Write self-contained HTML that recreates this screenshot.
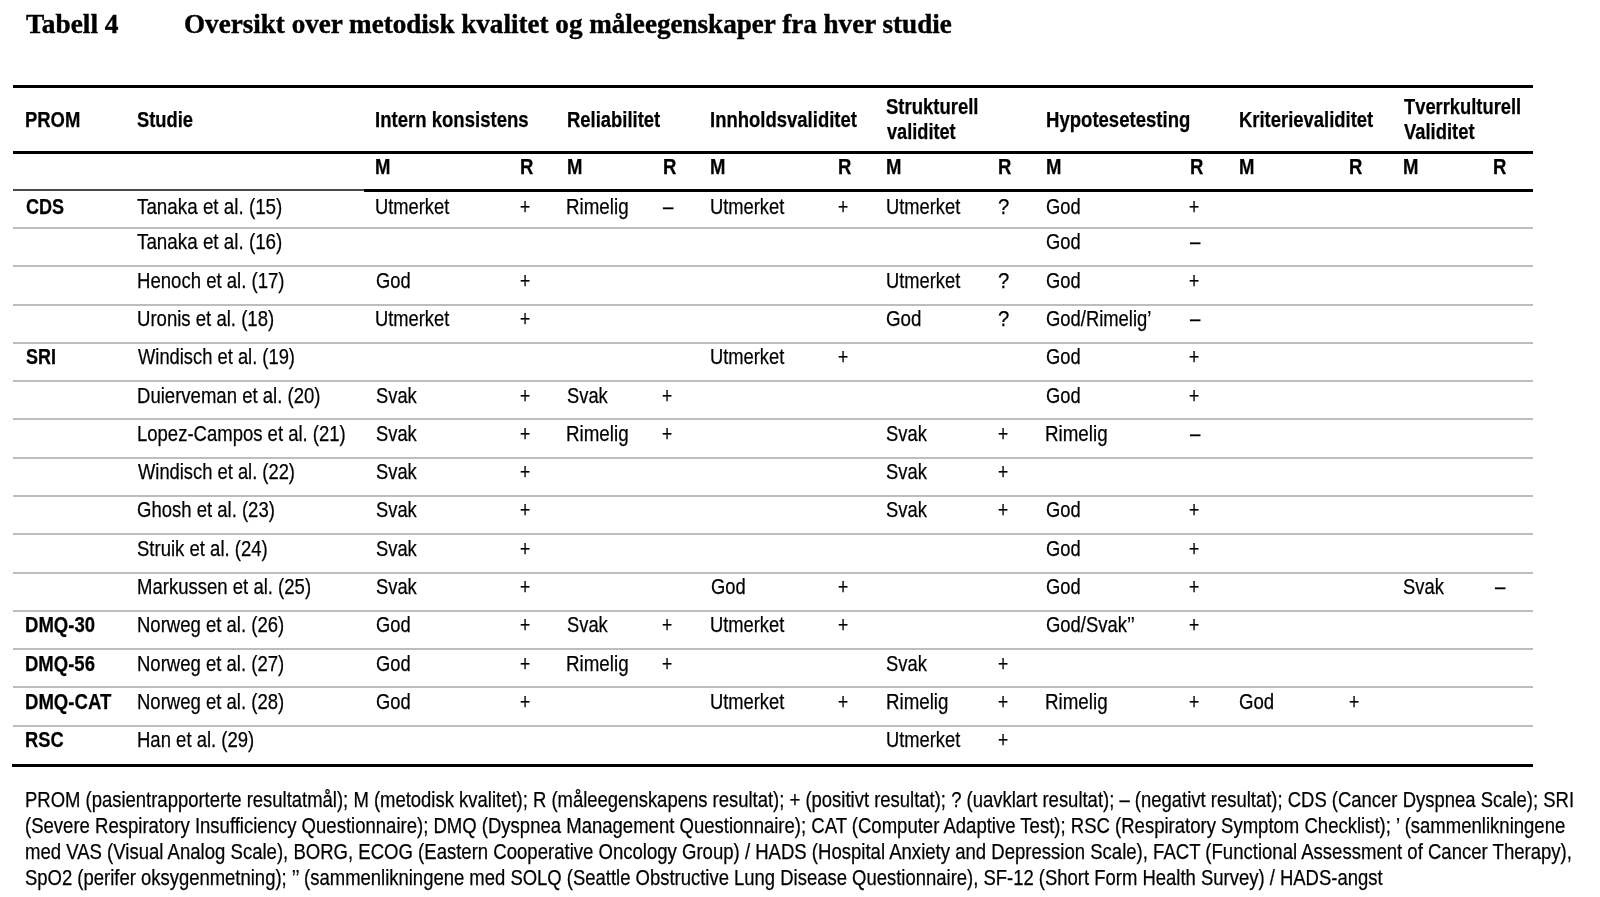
<!DOCTYPE html>
<html lang="no"><head><meta charset="utf-8"><title>Tabell 4 – Oversikt over metodisk kvalitet og måleegenskaper fra hver studie</title>
<style>
html,body{margin:0;padding:0;background:#fff;}
body{width:1600px;height:897px;position:relative;overflow:hidden;font-family:"Liberation Sans",Arial,sans-serif;color:#000;}
.wrap{position:absolute;left:0;top:0;width:1600px;height:897px;filter:grayscale(1);}
.t,.ti{position:absolute;white-space:nowrap;transform-origin:0 0;}
.t{-webkit-text-stroke:0.25px #000;}
.ti{-webkit-text-stroke:0.4px #000;}
.ti{font-family:"Liberation Serif","Times New Roman",serif;font-weight:700;}
.b{font-weight:700;}
.ln{position:absolute;left:13px;width:1520px;}
.blk{background:#000;height:3px;}
.gr{background:#bdbdbd;height:2px;}
</style></head><body><div class="wrap">
<div class="ln blk" style="top:85px"></div>
<div class="ln blk" style="top:151px"></div>
<div class="ln" style="top:189px;height:2px;background:#4a4a4a;width:351px"></div>
<div class="ln blk" style="top:189px;left:364px;width:1169px"></div>
<div class="ln gr" style="top:227px"></div>
<div class="ln gr" style="top:265px"></div>
<div class="ln gr" style="top:304px"></div>
<div class="ln gr" style="top:342px"></div>
<div class="ln gr" style="top:380px"></div>
<div class="ln gr" style="top:418px"></div>
<div class="ln gr" style="top:457px"></div>
<div class="ln gr" style="top:495px"></div>
<div class="ln gr" style="top:533px"></div>
<div class="ln gr" style="top:572px"></div>
<div class="ln gr" style="top:610px"></div>
<div class="ln gr" style="top:648px"></div>
<div class="ln gr" style="top:686px"></div>
<div class="ln gr" style="top:725px"></div>
<div class="ln blk" style="top:763.5px;left:12px;width:1521px"></div>
<div class="ti" style="left:26.00px;top:11.39px;font-size:27px;line-height:27px;transform:scaleX(1.0134);">Tabell 4</div>
<div class="ti" style="left:184.27px;top:11.39px;font-size:27px;line-height:27px;transform:scaleX(1.0037);">Oversikt over metodisk kvalitet og måleegenskaper fra hver studie</div>
<div class="t" style="left:25.48px;top:109.48px;font-size:22.0px;line-height:22.0px;font-weight:700;transform:scaleX(0.8377);">PROM</div>
<div class="t" style="left:137.00px;top:109.48px;font-size:22.0px;line-height:22.0px;font-weight:700;transform:scaleX(0.8341);">Studie</div>
<div class="t" style="left:374.71px;top:109.48px;font-size:22.0px;line-height:22.0px;font-weight:700;transform:scaleX(0.8433);">Intern konsistens</div>
<div class="t" style="left:567.07px;top:109.48px;font-size:22.0px;line-height:22.0px;font-weight:700;transform:scaleX(0.8376);">Reliabilitet</div>
<div class="t" style="left:709.72px;top:109.48px;font-size:22.0px;line-height:22.0px;font-weight:700;transform:scaleX(0.8407);">Innholdsvaliditet</div>
<div class="t" style="left:886.36px;top:96.48px;font-size:22.0px;line-height:22.0px;font-weight:700;transform:scaleX(0.8405);">Strukturell</div>
<div class="t" style="left:886.92px;top:121.48px;font-size:22.0px;line-height:22.0px;font-weight:700;transform:scaleX(0.8258);">validitet</div>
<div class="t" style="left:1045.91px;top:109.48px;font-size:22.0px;line-height:22.0px;font-weight:700;transform:scaleX(0.8432);">Hypotesetesting</div>
<div class="t" style="left:1238.88px;top:109.48px;font-size:22.0px;line-height:22.0px;font-weight:700;transform:scaleX(0.8382);">Kriterievaliditet</div>
<div class="t" style="left:1403.84px;top:96.48px;font-size:22.0px;line-height:22.0px;font-weight:700;transform:scaleX(0.8335);">Tverrkulturell</div>
<div class="t" style="left:1403.79px;top:121.48px;font-size:22.0px;line-height:22.0px;font-weight:700;transform:scaleX(0.8364);">Validitet</div>
<div class="t" style="left:375.16px;top:156.38px;font-size:22.0px;line-height:22.0px;font-weight:700;transform:scaleX(0.8430);">M</div>
<div class="t" style="left:519.91px;top:156.38px;font-size:22.0px;line-height:22.0px;font-weight:700;transform:scaleX(0.8430);">R</div>
<div class="t" style="left:567.16px;top:156.38px;font-size:22.0px;line-height:22.0px;font-weight:700;transform:scaleX(0.8430);">M</div>
<div class="t" style="left:662.91px;top:156.38px;font-size:22.0px;line-height:22.0px;font-weight:700;transform:scaleX(0.8430);">R</div>
<div class="t" style="left:710.06px;top:156.38px;font-size:22.0px;line-height:22.0px;font-weight:700;transform:scaleX(0.8430);">M</div>
<div class="t" style="left:838.41px;top:156.38px;font-size:22.0px;line-height:22.0px;font-weight:700;transform:scaleX(0.8430);">R</div>
<div class="t" style="left:886.16px;top:156.38px;font-size:22.0px;line-height:22.0px;font-weight:700;transform:scaleX(0.8430);">M</div>
<div class="t" style="left:998.41px;top:156.38px;font-size:22.0px;line-height:22.0px;font-weight:700;transform:scaleX(0.8430);">R</div>
<div class="t" style="left:1045.91px;top:156.38px;font-size:22.0px;line-height:22.0px;font-weight:700;transform:scaleX(0.8430);">M</div>
<div class="t" style="left:1189.76px;top:156.38px;font-size:22.0px;line-height:22.0px;font-weight:700;transform:scaleX(0.8430);">R</div>
<div class="t" style="left:1238.86px;top:156.38px;font-size:22.0px;line-height:22.0px;font-weight:700;transform:scaleX(0.8430);">M</div>
<div class="t" style="left:1349.16px;top:156.38px;font-size:22.0px;line-height:22.0px;font-weight:700;transform:scaleX(0.8430);">R</div>
<div class="t" style="left:1403.16px;top:156.38px;font-size:22.0px;line-height:22.0px;font-weight:700;transform:scaleX(0.8430);">M</div>
<div class="t" style="left:1492.86px;top:156.38px;font-size:22.0px;line-height:22.0px;font-weight:700;transform:scaleX(0.8430);">R</div>
<div class="t" style="left:25.81px;top:194.88px;font-size:22.7px;line-height:22.7px;font-weight:700;transform:scaleX(0.7968);">CDS</div>
<div class="t" style="left:137.37px;top:194.88px;font-size:22.7px;line-height:22.7px;transform:scaleX(0.8291);">Tanaka et al. (15)</div>
<div class="t" style="left:375.19px;top:194.88px;font-size:22.7px;line-height:22.7px;transform:scaleX(0.8074);">Utmerket</div>
<div class="t" style="left:519.90px;top:194.88px;font-size:22.7px;line-height:22.7px;transform:scaleX(0.7681);">+</div>
<div class="t" style="left:566.47px;top:194.88px;font-size:22.7px;line-height:22.7px;transform:scaleX(0.8276);">Rimelig</div>
<div class="t" style="left:663.06px;top:194.88px;font-size:22.7px;line-height:22.7px;transform:scaleX(0.8217);">–</div>
<div class="t" style="left:710.19px;top:194.88px;font-size:22.7px;line-height:22.7px;transform:scaleX(0.8074);">Utmerket</div>
<div class="t" style="left:837.90px;top:194.88px;font-size:22.7px;line-height:22.7px;transform:scaleX(0.7681);">+</div>
<div class="t" style="left:885.70px;top:194.88px;font-size:22.7px;line-height:22.7px;transform:scaleX(0.8071);">Utmerket</div>
<div class="t" style="left:998.02px;top:194.88px;font-size:22.7px;line-height:22.7px;transform:scaleX(0.8951);">?</div>
<div class="t" style="left:1045.69px;top:194.88px;font-size:22.7px;line-height:22.7px;transform:scaleX(0.8070);">God</div>
<div class="t" style="left:1188.90px;top:194.88px;font-size:22.7px;line-height:22.7px;transform:scaleX(0.7681);">+</div>
<div class="t" style="left:137.37px;top:230.38px;font-size:22.7px;line-height:22.7px;transform:scaleX(0.8291);">Tanaka et al. (16)</div>
<div class="t" style="left:1045.69px;top:230.38px;font-size:22.7px;line-height:22.7px;transform:scaleX(0.8070);">God</div>
<div class="t" style="left:1190.06px;top:230.38px;font-size:22.7px;line-height:22.7px;transform:scaleX(0.8217);">–</div>
<div class="t" style="left:136.90px;top:268.67px;font-size:22.7px;line-height:22.7px;transform:scaleX(0.8182);">Henoch et al. (17)</div>
<div class="t" style="left:375.79px;top:268.67px;font-size:22.7px;line-height:22.7px;transform:scaleX(0.8070);">God</div>
<div class="t" style="left:519.90px;top:268.67px;font-size:22.7px;line-height:22.7px;transform:scaleX(0.7681);">+</div>
<div class="t" style="left:885.70px;top:268.67px;font-size:22.7px;line-height:22.7px;transform:scaleX(0.8071);">Utmerket</div>
<div class="t" style="left:998.02px;top:268.67px;font-size:22.7px;line-height:22.7px;transform:scaleX(0.8951);">?</div>
<div class="t" style="left:1045.69px;top:268.67px;font-size:22.7px;line-height:22.7px;transform:scaleX(0.8070);">God</div>
<div class="t" style="left:1188.90px;top:268.67px;font-size:22.7px;line-height:22.7px;transform:scaleX(0.7681);">+</div>
<div class="t" style="left:136.97px;top:306.96px;font-size:22.7px;line-height:22.7px;transform:scaleX(0.8181);">Uronis et al. (18)</div>
<div class="t" style="left:375.19px;top:306.96px;font-size:22.7px;line-height:22.7px;transform:scaleX(0.8074);">Utmerket</div>
<div class="t" style="left:519.90px;top:306.96px;font-size:22.7px;line-height:22.7px;transform:scaleX(0.7681);">+</div>
<div class="t" style="left:886.40px;top:306.96px;font-size:22.7px;line-height:22.7px;transform:scaleX(0.8263);">God</div>
<div class="t" style="left:998.02px;top:306.96px;font-size:22.7px;line-height:22.7px;transform:scaleX(0.8951);">?</div>
<div class="t" style="left:1045.69px;top:306.96px;font-size:22.7px;line-height:22.7px;transform:scaleX(0.8113);">God/Rimelig’</div>
<div class="t" style="left:1190.06px;top:306.96px;font-size:22.7px;line-height:22.7px;transform:scaleX(0.8217);">–</div>
<div class="t" style="left:26.25px;top:345.25px;font-size:22.7px;line-height:22.7px;font-weight:700;transform:scaleX(0.7928);">SRI</div>
<div class="t" style="left:137.60px;top:345.25px;font-size:22.7px;line-height:22.7px;transform:scaleX(0.8083);">Windisch et al. (19)</div>
<div class="t" style="left:710.19px;top:345.25px;font-size:22.7px;line-height:22.7px;transform:scaleX(0.8074);">Utmerket</div>
<div class="t" style="left:837.90px;top:345.25px;font-size:22.7px;line-height:22.7px;transform:scaleX(0.7681);">+</div>
<div class="t" style="left:1045.69px;top:345.25px;font-size:22.7px;line-height:22.7px;transform:scaleX(0.8070);">God</div>
<div class="t" style="left:1188.90px;top:345.25px;font-size:22.7px;line-height:22.7px;transform:scaleX(0.7681);">+</div>
<div class="t" style="left:136.60px;top:383.54px;font-size:22.7px;line-height:22.7px;transform:scaleX(0.8176);">Duierveman et al. (20)</div>
<div class="t" style="left:375.58px;top:383.54px;font-size:22.7px;line-height:22.7px;transform:scaleX(0.8079);">Svak</div>
<div class="t" style="left:519.90px;top:383.54px;font-size:22.7px;line-height:22.7px;transform:scaleX(0.7681);">+</div>
<div class="t" style="left:566.86px;top:383.54px;font-size:22.7px;line-height:22.7px;transform:scaleX(0.8081);">Svak</div>
<div class="t" style="left:661.90px;top:383.54px;font-size:22.7px;line-height:22.7px;transform:scaleX(0.7681);">+</div>
<div class="t" style="left:1045.69px;top:383.54px;font-size:22.7px;line-height:22.7px;transform:scaleX(0.8070);">God</div>
<div class="t" style="left:1188.90px;top:383.54px;font-size:22.7px;line-height:22.7px;transform:scaleX(0.7681);">+</div>
<div class="t" style="left:136.90px;top:421.83px;font-size:22.7px;line-height:22.7px;transform:scaleX(0.8155);">Lopez-Campos et al. (21)</div>
<div class="t" style="left:375.58px;top:421.83px;font-size:22.7px;line-height:22.7px;transform:scaleX(0.8079);">Svak</div>
<div class="t" style="left:519.90px;top:421.83px;font-size:22.7px;line-height:22.7px;transform:scaleX(0.7681);">+</div>
<div class="t" style="left:566.47px;top:421.83px;font-size:22.7px;line-height:22.7px;transform:scaleX(0.8276);">Rimelig</div>
<div class="t" style="left:661.90px;top:421.83px;font-size:22.7px;line-height:22.7px;transform:scaleX(0.7681);">+</div>
<div class="t" style="left:886.36px;top:421.83px;font-size:22.7px;line-height:22.7px;transform:scaleX(0.8092);">Svak</div>
<div class="t" style="left:997.90px;top:421.83px;font-size:22.7px;line-height:22.7px;transform:scaleX(0.7681);">+</div>
<div class="t" style="left:1044.86px;top:421.83px;font-size:22.7px;line-height:22.7px;transform:scaleX(0.8276);">Rimelig</div>
<div class="t" style="left:1190.06px;top:421.83px;font-size:22.7px;line-height:22.7px;transform:scaleX(0.8217);">–</div>
<div class="t" style="left:137.60px;top:460.12px;font-size:22.7px;line-height:22.7px;transform:scaleX(0.8083);">Windisch et al. (22)</div>
<div class="t" style="left:375.58px;top:460.12px;font-size:22.7px;line-height:22.7px;transform:scaleX(0.8079);">Svak</div>
<div class="t" style="left:519.90px;top:460.12px;font-size:22.7px;line-height:22.7px;transform:scaleX(0.7681);">+</div>
<div class="t" style="left:886.36px;top:460.12px;font-size:22.7px;line-height:22.7px;transform:scaleX(0.8092);">Svak</div>
<div class="t" style="left:997.90px;top:460.12px;font-size:22.7px;line-height:22.7px;transform:scaleX(0.7681);">+</div>
<div class="t" style="left:137.11px;top:498.41px;font-size:22.7px;line-height:22.7px;transform:scaleX(0.8158);">Ghosh et al. (23)</div>
<div class="t" style="left:375.58px;top:498.41px;font-size:22.7px;line-height:22.7px;transform:scaleX(0.8079);">Svak</div>
<div class="t" style="left:519.90px;top:498.41px;font-size:22.7px;line-height:22.7px;transform:scaleX(0.7681);">+</div>
<div class="t" style="left:886.36px;top:498.41px;font-size:22.7px;line-height:22.7px;transform:scaleX(0.8092);">Svak</div>
<div class="t" style="left:997.90px;top:498.41px;font-size:22.7px;line-height:22.7px;transform:scaleX(0.7681);">+</div>
<div class="t" style="left:1045.69px;top:498.41px;font-size:22.7px;line-height:22.7px;transform:scaleX(0.8070);">God</div>
<div class="t" style="left:1188.90px;top:498.41px;font-size:22.7px;line-height:22.7px;transform:scaleX(0.7681);">+</div>
<div class="t" style="left:136.97px;top:536.70px;font-size:22.7px;line-height:22.7px;transform:scaleX(0.8163);">Struik et al. (24)</div>
<div class="t" style="left:375.58px;top:536.70px;font-size:22.7px;line-height:22.7px;transform:scaleX(0.8079);">Svak</div>
<div class="t" style="left:519.90px;top:536.70px;font-size:22.7px;line-height:22.7px;transform:scaleX(0.7681);">+</div>
<div class="t" style="left:1045.69px;top:536.70px;font-size:22.7px;line-height:22.7px;transform:scaleX(0.8070);">God</div>
<div class="t" style="left:1188.90px;top:536.70px;font-size:22.7px;line-height:22.7px;transform:scaleX(0.7681);">+</div>
<div class="t" style="left:136.60px;top:574.99px;font-size:22.7px;line-height:22.7px;transform:scaleX(0.8168);">Markussen et al. (25)</div>
<div class="t" style="left:375.58px;top:574.99px;font-size:22.7px;line-height:22.7px;transform:scaleX(0.8079);">Svak</div>
<div class="t" style="left:519.90px;top:574.99px;font-size:22.7px;line-height:22.7px;transform:scaleX(0.7681);">+</div>
<div class="t" style="left:710.79px;top:574.99px;font-size:22.7px;line-height:22.7px;transform:scaleX(0.8070);">God</div>
<div class="t" style="left:837.90px;top:574.99px;font-size:22.7px;line-height:22.7px;transform:scaleX(0.7681);">+</div>
<div class="t" style="left:1045.69px;top:574.99px;font-size:22.7px;line-height:22.7px;transform:scaleX(0.8070);">God</div>
<div class="t" style="left:1188.90px;top:574.99px;font-size:22.7px;line-height:22.7px;transform:scaleX(0.7681);">+</div>
<div class="t" style="left:1403.36px;top:574.99px;font-size:22.7px;line-height:22.7px;transform:scaleX(0.8092);">Svak</div>
<div class="t" style="left:1494.61px;top:574.99px;font-size:22.7px;line-height:22.7px;transform:scaleX(0.8193);">–</div>
<div class="t" style="left:24.74px;top:613.28px;font-size:22.7px;line-height:22.7px;font-weight:700;transform:scaleX(0.8176);">DMQ-30</div>
<div class="t" style="left:136.90px;top:613.28px;font-size:22.7px;line-height:22.7px;transform:scaleX(0.8162);">Norweg et al. (26)</div>
<div class="t" style="left:375.79px;top:613.28px;font-size:22.7px;line-height:22.7px;transform:scaleX(0.8070);">God</div>
<div class="t" style="left:519.90px;top:613.28px;font-size:22.7px;line-height:22.7px;transform:scaleX(0.7681);">+</div>
<div class="t" style="left:566.86px;top:613.28px;font-size:22.7px;line-height:22.7px;transform:scaleX(0.8081);">Svak</div>
<div class="t" style="left:661.90px;top:613.28px;font-size:22.7px;line-height:22.7px;transform:scaleX(0.7681);">+</div>
<div class="t" style="left:710.19px;top:613.28px;font-size:22.7px;line-height:22.7px;transform:scaleX(0.8074);">Utmerket</div>
<div class="t" style="left:837.90px;top:613.28px;font-size:22.7px;line-height:22.7px;transform:scaleX(0.7681);">+</div>
<div class="t" style="left:1045.92px;top:613.28px;font-size:22.7px;line-height:22.7px;transform:scaleX(0.8132);">God/Svak’’</div>
<div class="t" style="left:1188.90px;top:613.28px;font-size:22.7px;line-height:22.7px;transform:scaleX(0.7681);">+</div>
<div class="t" style="left:24.75px;top:651.57px;font-size:22.7px;line-height:22.7px;font-weight:700;transform:scaleX(0.8160);">DMQ-56</div>
<div class="t" style="left:136.90px;top:651.57px;font-size:22.7px;line-height:22.7px;transform:scaleX(0.8162);">Norweg et al. (27)</div>
<div class="t" style="left:375.79px;top:651.57px;font-size:22.7px;line-height:22.7px;transform:scaleX(0.8070);">God</div>
<div class="t" style="left:519.90px;top:651.57px;font-size:22.7px;line-height:22.7px;transform:scaleX(0.7681);">+</div>
<div class="t" style="left:566.47px;top:651.57px;font-size:22.7px;line-height:22.7px;transform:scaleX(0.8276);">Rimelig</div>
<div class="t" style="left:661.90px;top:651.57px;font-size:22.7px;line-height:22.7px;transform:scaleX(0.7681);">+</div>
<div class="t" style="left:886.36px;top:651.57px;font-size:22.7px;line-height:22.7px;transform:scaleX(0.8092);">Svak</div>
<div class="t" style="left:997.90px;top:651.57px;font-size:22.7px;line-height:22.7px;transform:scaleX(0.7681);">+</div>
<div class="t" style="left:24.81px;top:689.86px;font-size:22.7px;line-height:22.7px;font-weight:700;transform:scaleX(0.8181);">DMQ-CAT</div>
<div class="t" style="left:136.90px;top:689.86px;font-size:22.7px;line-height:22.7px;transform:scaleX(0.8162);">Norweg et al. (28)</div>
<div class="t" style="left:375.79px;top:689.86px;font-size:22.7px;line-height:22.7px;transform:scaleX(0.8070);">God</div>
<div class="t" style="left:519.90px;top:689.86px;font-size:22.7px;line-height:22.7px;transform:scaleX(0.7681);">+</div>
<div class="t" style="left:710.19px;top:689.86px;font-size:22.7px;line-height:22.7px;transform:scaleX(0.8074);">Utmerket</div>
<div class="t" style="left:837.90px;top:689.86px;font-size:22.7px;line-height:22.7px;transform:scaleX(0.7681);">+</div>
<div class="t" style="left:885.56px;top:689.86px;font-size:22.7px;line-height:22.7px;transform:scaleX(0.8255);">Rimelig</div>
<div class="t" style="left:997.90px;top:689.86px;font-size:22.7px;line-height:22.7px;transform:scaleX(0.7681);">+</div>
<div class="t" style="left:1044.86px;top:689.86px;font-size:22.7px;line-height:22.7px;transform:scaleX(0.8276);">Rimelig</div>
<div class="t" style="left:1188.90px;top:689.86px;font-size:22.7px;line-height:22.7px;transform:scaleX(0.7681);">+</div>
<div class="t" style="left:1238.70px;top:689.86px;font-size:22.7px;line-height:22.7px;transform:scaleX(0.8197);">God</div>
<div class="t" style="left:1348.90px;top:689.86px;font-size:22.7px;line-height:22.7px;transform:scaleX(0.7681);">+</div>
<div class="t" style="left:24.94px;top:728.15px;font-size:22.7px;line-height:22.7px;font-weight:700;transform:scaleX(0.8063);">RSC</div>
<div class="t" style="left:136.61px;top:728.15px;font-size:22.7px;line-height:22.7px;transform:scaleX(0.8156);">Han et al. (29)</div>
<div class="t" style="left:885.70px;top:728.15px;font-size:22.7px;line-height:22.7px;transform:scaleX(0.8071);">Utmerket</div>
<div class="t" style="left:997.90px;top:728.15px;font-size:22.7px;line-height:22.7px;transform:scaleX(0.7681);">+</div>
<div class="t" style="left:24.77px;top:789.33px;font-size:21.7px;line-height:21.7px;transform:scaleX(0.8514);">PROM (pasientrapporterte resultatmål); M (metodisk kvalitet); R (måleegenskapens resultat); + (positivt resultat); ? (uavklart resultat); – (negativt resultat); CDS (Cancer Dyspnea Scale); SRI</div>
<div class="t" style="left:24.86px;top:815.08px;font-size:21.7px;line-height:21.7px;transform:scaleX(0.8542);">(Severe Respiratory Insufficiency Questionnaire); DMQ (Dyspnea Management Questionnaire); CAT (Computer Adaptive Test); RSC (Respiratory Symptom Checklist); ’ (sammenlikningene</div>
<div class="t" style="left:25.30px;top:840.83px;font-size:21.7px;line-height:21.7px;transform:scaleX(0.8552);">med VAS (Visual Analog Scale), BORG, ECOG (Eastern Cooperative Oncology Group) / HADS (Hospital Anxiety and Depression Scale), FACT (Functional Assessment of Cancer Therapy),</div>
<div class="t" style="left:25.23px;top:866.58px;font-size:21.7px;line-height:21.7px;transform:scaleX(0.8513);">SpO2 (perifer oksygenmetning); ’’ (sammenlikningene med SOLQ (Seattle Obstructive Lung Disease Questionnaire), SF-12 (Short Form Health Survey) / HADS-angst</div>
</div></body></html>
